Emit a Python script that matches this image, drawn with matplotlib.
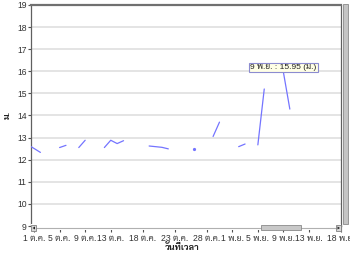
import matplotlib
matplotlib.use("Agg")
import matplotlib.pyplot as plt
import matplotlib.dates as mdates
from matplotlib.patches import Rectangle, Polygon
import numpy as np
import pandas as pd

plt.rcParams['font.family'] = ['Liberation Sans', 'Sarabun', 'Noto Sans Thai', 'Bai Jamjuree', 'DejaVu Sans']

# ---- data (daily water level, m.) ----
dates = pd.date_range("2011-09-30", "2011-11-18", freq="D")
levels = [12.68, 12.51, 12.33, np.nan, np.nan, 12.55, 12.65, np.nan, 12.55, 12.88,
          np.nan, np.nan, 12.55, 12.88, 12.73, 12.86, np.nan, np.nan, np.nan, 12.62,
          12.59, 12.56, 12.49, np.nan, np.nan, np.nan, 12.49, np.nan, np.nan, 13.05,
          13.70, np.nan, np.nan, 12.59, 12.71, np.nan, 12.67, 15.20, np.nan, np.nan,
          15.95, 14.29, np.nan, np.nan, np.nan, np.nan, np.nan, np.nan, np.nan, np.nan]
tick_dates = ["2011-10-01", "2011-10-05", "2011-10-09", "2011-10-13", "2011-10-18",
              "2011-10-23", "2011-10-28", "2011-11-01", "2011-11-05", "2011-11-09",
              "2011-11-13", "2011-11-18"]
tick_labels = ["1 ต.ค.", "5 ต.ค.", "9 ต.ค.", "13 ต.ค.", "18 ต.ค.", "23 ต.ค.",
               "28 ต.ค.", "1 พ.ย.", "5 พ.ย.", "9 พ.ย.", "13 พ.ย.", "18 พ.ย."]
y_ticks = [9, 10, 11, 12, 13, 14, 15, 16, 17, 18, 19]
tip_date = "2011-11-09"
tip_value = 15.95
tip_text = "9 พ.ย. : 15.95 (ม.)"

W, H = 350, 254
fig = plt.figure(figsize=(W / 100, H / 100), dpi=100)
fig.patch.set_facecolor("white")

def fx(px):
    return px / W

def fy(py):
    return 1 - py / H

ax = fig.add_axes([fx(31), fy(226), fx(310), (226 - 5) / H])

s = pd.Series(levels, index=dates)
line_col = "#7474ff"
ax.plot(s.index, s.values, color=line_col, lw=0.9, solid_capstyle="round", zorder=3)
# isolated points (no neighbours) drawn as dots
vals = s.values
iso = [i for i in range(len(vals)) if not np.isnan(vals[i])
       and (i == 0 or np.isnan(vals[i - 1])) and (i == len(vals) - 1 or np.isnan(vals[i + 1]))]
ax.plot(s.index[iso], vals[iso], ls="none", marker="o", ms=1.3, color=line_col, zorder=3)

x0 = mdates.date2num(pd.Timestamp("2011-10-01"))
ax.set_xlim(x0 - 0.47, x0 + 47.97)
ax.set_ylim(9, 19)

ax.set_yticks(y_ticks)
ax.set_xticks([mdates.date2num(pd.Timestamp(d)) for d in tick_dates])
ax.set_xticklabels(tick_labels)
ax.yaxis.grid(True, color="#dcdcdc", lw=1.1)
ax.xaxis.grid(False)
ax.set_axisbelow(True)

ax.tick_params(axis="y", labelsize=6.2, colors="#505050", length=2.3, width=0.8, pad=0.8)
ax.tick_params(axis="x", labelsize=6.2, colors="#505050", length=4, width=0.8, pad=2.0)
for lab in ax.get_xticklabels() + ax.get_yticklabels():
    lab.set_color("#333333")

ax.spines["top"].set_color("#707070")
ax.spines["top"].set_linewidth(1.6)
ax.spines["left"].set_color("#606060")
ax.spines["left"].set_linewidth(0.9)
ax.spines["right"].set_color("#606060")
ax.spines["right"].set_linewidth(0.9)
ax.spines["bottom"].set_color("#606060")
ax.spines["bottom"].set_linewidth(0.9)

ax.set_ylabel("ม.", fontsize=6.5, fontweight="bold", color="#202020")
ax.yaxis.set_label_coords((7 - 31) / 310, (226 - 115) / 221)
ax.yaxis.label.set_va("center")
ax.yaxis.label.set_ha("center")
ax.set_xlabel("วันที่เวลา", fontsize=6.5, fontweight="bold", color="#202020")
ax.xaxis.set_label_coords((182 - 31) / 310, (226 - 247) / 221)
ax.xaxis.label.set_va("center")

# tooltip
ax.annotate(tip_text, xy=(mdates.date2num(pd.Timestamp(tip_date)), tip_value),
            xytext=(0, 1.5), textcoords="offset pixels", ha="center", va="bottom",
            fontsize=6, color="#202020",
            bbox=dict(boxstyle="square,pad=0.12", fc="#ffffe6", ec="#8c8cd0", lw=0.8),
            zorder=5)

# horizontal scrollbar under the plot
fig.add_artist(Rectangle((fx(31), fy(230)), fx(310), 6 / H, transform=fig.transFigure,
                         fc="white", ec="none", zorder=1))
fig.add_artist(plt.Line2D([fx(36), fx(336)], [fy(227.5), fy(227.5)], transform=fig.transFigure,
                          color="#b0b0b0", lw=0.8, zorder=2))
fig.add_artist(Rectangle((fx(261), fy(230)), fx(40), 5 / H, transform=fig.transFigure,
                         fc="#c8c8c8", ec="#8a8a8a", lw=0.6, zorder=3))
for bx in (31, 336):
    fig.add_artist(Rectangle((fx(bx), fy(231)), fx(5), 6 / H, transform=fig.transFigure,
                             fc="#d8d8d8", ec="#808080", lw=0.6, zorder=3))
fig.add_artist(Polygon([[fx(35), fy(226.5)], [fx(35), fy(229.5)], [fx(32.5), fy(228)]],
                       transform=fig.transFigure, fc="#202020", ec="none", zorder=4))
fig.add_artist(Polygon([[fx(337.5), fy(226.5)], [fx(337.5), fy(229.5)], [fx(340), fy(228)]],
                       transform=fig.transFigure, fc="#202020", ec="none", zorder=4))

# vertical scrollbar at right
fig.add_artist(Rectangle((fx(342.5), fy(224)), fx(5), (224 - 4) / H, transform=fig.transFigure,
                         fc="#c4c4c4", ec="#8a8a8a", lw=0.6, zorder=3))

fig.savefig("out.png", dpi=100)
